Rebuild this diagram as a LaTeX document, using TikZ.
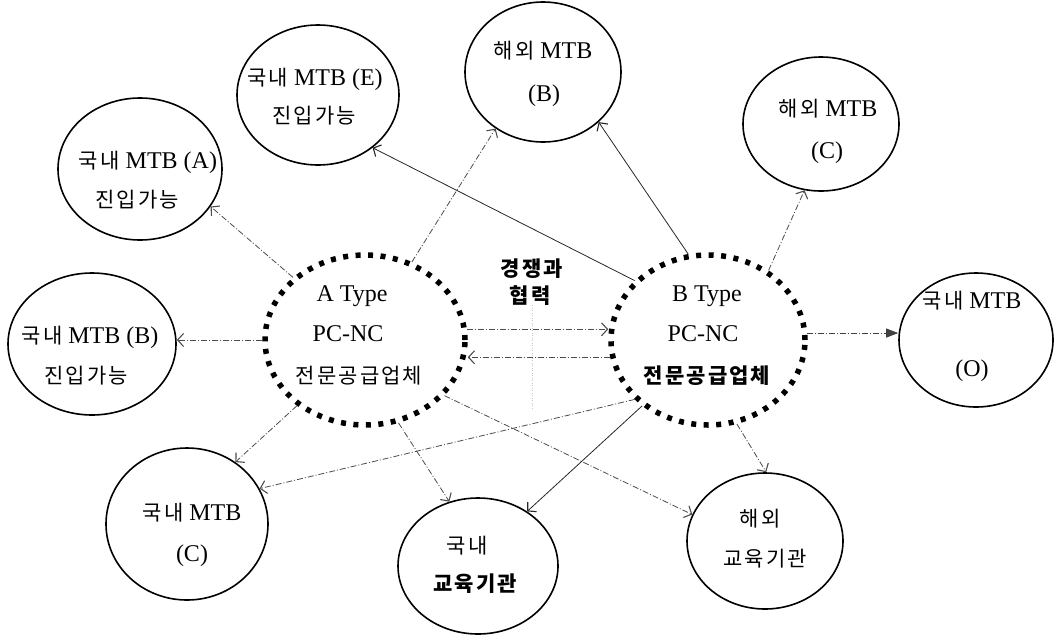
\documentclass[tikz,border=0pt]{standalone}
\usepackage{fontspec}
\setmainfont{Liberation Serif}
\newfontfamily\kr[LetterSpace=10]{Noto Sans CJK KR}
\usetikzlibrary{shapes.geometric,arrows.meta,calc}
\newcommand{\K}[1]{{\fontsize{21}{24}\kr #1}}
\begin{document}
\begin{tikzpicture}[x=1pt,y=-1pt,
  ring/.style 2 args={ellipse,draw,line width=1.6pt,minimum width=#1,minimum height=#2,inner sep=0pt},
  dotring/.style 2 args={ellipse,draw,line width=5.5pt,dash pattern=on 5pt off 7.5pt,minimum width=#1,minimum height=#2,inner sep=0pt},
  lbl/.style={anchor=base,inner sep=0pt,font=\fontsize{24}{28}\selectfont},
  arr/.style={draw=black!70,line width=0.8pt,dash pattern=on 6pt off 2pt on 1pt off 2pt,
    -{Straight Barb[length=6pt,width=13pt,line width=1.1pt]}},
  sarr/.style={draw=black!85,line width=0.8pt,
    -{Straight Barb[length=6pt,width=13pt,line width=1.1pt]}},
  farr/.style={draw=black!75,line width=0.8pt,dash pattern=on 6pt off 2pt on 1pt off 2pt,
    -{Triangle[length=12pt,width=9pt]}}]
\useasboundingbox (0,0) rectangle (1059,635);

% circles
\node[ring={164pt}{142pt}] (nA) at (140,169) {};
\node[ring={162pt}{140pt}] (nE) at (318,95) {};
\node[ring={156pt}{140pt}] (oB) at (543,72) {};
\node[ring={156pt}{134pt}] (oC) at (821,124) {};
\node[ring={168pt}{142pt}] (nB) at (92,344) {};
\node[dotring={200pt}{170pt}] (TA) at (365,340) {};
\node[dotring={194pt}{170pt}] (TB) at (708,340) {};
\node[ring={154pt}{134pt}] (nO) at (976,340) {};
\node[ring={162pt}{152pt}] (nC) at (187,524) {};
\node[ring={160pt}{136pt}] (eduK) at (478,566) {};
\node[ring={156pt}{136pt}] (eduO) at (765,541) {};

% labels
\node[lbl] (tA1) at (148,168) {\K{국내} MTB (A)};
\node[lbl] (tA2) at (137,207) {\K{진입가능}};
\node[lbl] (tE1) at (315,85) {\K{국내} MTB (E)};
\node[lbl] (tE2) at (314,123) {\K{진입가능}};
\node[lbl] (tOB1) at (543,58) {\K{해외} MTB};
\node[lbl] (tOB2) at (544,101) {(B)};
\node[lbl] (tOC1) at (828,116) {\K{해외} MTB};
\node[lbl] (tOC2) at (827,158) {(C)};
\node[lbl] (tB1) at (90,343) {\K{국내} MTB (B)};
\node[lbl] (tB2) at (86,383) {\K{진입가능}};
\node[lbl] (tTA1) at (352,301) {A Type};
\node[lbl] (tTA2) at (348,341) {PC-NC};
\node[lbl] (tTA3) at (359,383) {\K{전문공급업체}};
\node[lbl] (tTB1) at (707,301) {B Type};
\node[lbl] (tTB2) at (703,341) {PC-NC};
\node[lbl] (tTB3) at (707,383) {\bfseries\K{전문공급업체}};
\node[lbl] (tK1) at (532,276) {\bfseries\K{경쟁과}};
\node[lbl] (tK2) at (530,303) {\bfseries\K{협력}};
\node[lbl] (tO1) at (972,308) {\K{국내} MTB};
\node[lbl] (tO2) at (972,376) {(O)};
\node[lbl] (tC1) at (192,520) {\K{국내} MTB};
\node[lbl] (tC2) at (192,561) {(C)};
\node[lbl] (tEK1) at (467,553) {\K{국내}};
\node[lbl] (tEK2) at (475,591) {\bfseries\K{교육기관}};
\node[lbl] (tEO1) at (760,526) {\K{해외}};
\node[lbl] (tEO2) at (765,566) {\K{교육기관}};

% faint guide
\coordinate (v1) at (532,305);
\coordinate (v2) at (532,410);
\draw[gray!45,dotted,line width=0.5pt] (v1) -- (v2);

% connectors from A
\draw[arr] (TA.139) -- (nA.332);
\draw[arr] (TA.59) -- (oB.230);
\draw[arr] (TA.180) -- (TA.180 -| nB.east);
\draw[arr] (TA.224) -- (nC.52);
\draw[arr] (TA.292) -- (eduK.114);
\draw[arr] (TA.325) -- (eduO.160);
\draw[arr] (TA.6) -- (TA.6 -| TB.west);
\draw[arr] (TB.190) -- (TB.190 -| TA.east);
% connectors from B
\draw[sarr] (TB.141) -- (nE.316);
\draw[sarr] (TB.103) -- (oB.318);
\draw[arr] (TB.49) -- (oC.256);
\draw[farr] (TB.4) -- (TB.4 -| nO.west);
\draw[arr] (TB.219) -- (nC.26);
\draw[sarr] (TB.225) -- (eduK.48);
\draw[arr] (TB.289) -- (eduO.89);
\end{tikzpicture}
\end{document}
